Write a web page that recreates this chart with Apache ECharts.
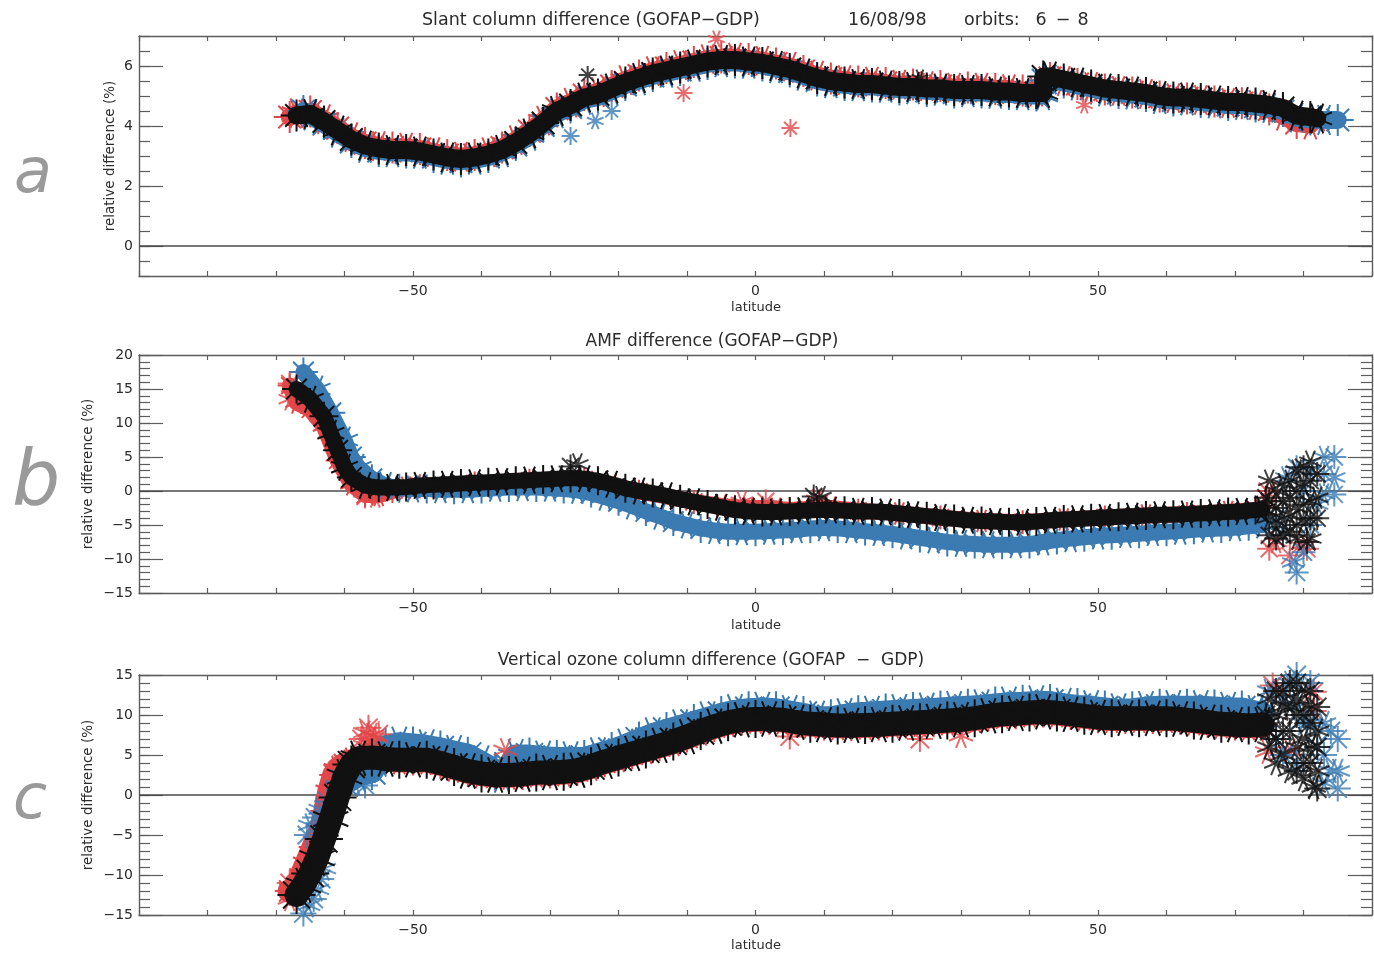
<!DOCTYPE html>
<html>
<head>
<meta charset="utf-8">
<script src="https://cdn.jsdelivr.net/npm/echarts@6/dist/echarts.min.js"></script>
<style>
  html, body { margin: 0; padding: 0; background: #ffffff; }
  #chart { width: 1374px; height: 963px; }
</style>
</head>
<body>
<div id="chart"></div>
<script>
// ---------- tick values ----------
const latLabels = [-50, 0, 50];
const slantTicks = [0, 2, 4, 6];
const amfTicks = [-15, -10, -5, 0, 5, 10, 15, 20];
const vcdTicks = [-15, -10, -5, 0, 5, 10, 15];
const zeroRef = [[-90, 0], [90, 0]];

// ---------- Slant column difference: [latitude, %] ----------
const slantRed = [[-68,4.3],[-67,4.43],[-65,4.48],[-63,4.23],[-61,3.93],[-59,3.63],[-57,3.43],[-55,3.33],[-53,3.28],[-51,3.28],[-49,3.23],[-47,3.13],[-45,3.03],[-43,2.98],[-41,3.03],[-39,3.13],[-37,3.28],[-35,3.53],[-33,3.83],[-31,4.18],[-29,4.58],[-27,4.78],[-25,5.03],[-23,5.13],[-21,5.33],[-19,5.53],[-17,5.68],[-15,5.83],[-13,5.93],[-11,6.03],[-9,6.13],[-7,6.23],[-5,6.28],[-3,6.28],[-1,6.23],[1,6.18],[3,6.08],[5,5.98],[7,5.83],[9,5.68],[11,5.58],[13,5.53],[15,5.48],[17,5.48],[19,5.43],[21,5.38],[23,5.38],[25,5.33],[27,5.33],[29,5.28],[31,5.28],[33,5.28],[35,5.23],[37,5.23],[39,5.18],[41,5.15],[43,5.6],[45,5.5],[47,5.4],[49,5.3],[51,5.22],[53,5.17],[55,5.12],[57,5.07],[59,4.98],[61,4.93],[63,4.92],[65,4.87],[67,4.82],[69,4.77],[71,4.76],[73,4.7],[75,4.55],[77,4.35],[79,4.1],[81,4.05]];
const slantBlue = [[-66,4.5],[-65,4.35],[-63,4.07],[-61,3.77],[-59,3.47],[-57,3.27],[-55,3.17],[-53,3.12],[-51,3.12],[-49,3.07],[-47,2.97],[-45,2.87],[-43,2.82],[-41,2.87],[-39,2.97],[-37,3.12],[-35,3.37],[-33,3.67],[-31,4.02],[-29,4.42],[-27,4.62],[-25,4.87],[-23,4.97],[-21,5.17],[-19,5.37],[-17,5.52],[-15,5.67],[-13,5.77],[-11,5.87],[-9,5.97],[-7,6.07],[-5,6.12],[-3,6.12],[-1,6.07],[1,6.02],[3,5.92],[5,5.82],[7,5.67],[9,5.52],[11,5.42],[13,5.37],[15,5.32],[17,5.32],[19,5.27],[21,5.22],[23,5.22],[25,5.17],[27,5.17],[29,5.12],[31,5.12],[33,5.12],[35,5.07],[37,5.07],[39,5.02],[41,5.02],[42,5.02],[42,5.52],[43,5.55],[45,5.45],[47,5.35],[49,5.25],[51,5.15],[53,5.1],[55,5.05],[57,5.0],[59,4.9],[61,4.85],[63,4.85],[65,4.8],[67,4.75],[69,4.7],[71,4.7],[73,4.65],[75,4.6],[77,4.5],[79,4.28],[81,4.22],[83,4.2],[85,4.2]];
const slantBlack = [[-67,4.35],[-65,4.4],[-63,4.15],[-61,3.85],[-59,3.55],[-57,3.35],[-55,3.25],[-53,3.2],[-51,3.2],[-49,3.15],[-47,3.05],[-45,2.95],[-43,2.9],[-41,2.95],[-39,3.05],[-37,3.2],[-35,3.45],[-33,3.75],[-31,4.1],[-29,4.5],[-27,4.7],[-25,4.95],[-23,5.05],[-21,5.25],[-19,5.45],[-17,5.6],[-15,5.75],[-13,5.85],[-11,5.95],[-9,6.05],[-7,6.15],[-5,6.2],[-3,6.2],[-1,6.15],[1,6.1],[3,6.0],[5,5.9],[7,5.75],[9,5.6],[11,5.5],[13,5.45],[15,5.4],[17,5.4],[19,5.35],[21,5.3],[23,5.3],[25,5.25],[27,5.25],[29,5.2],[31,5.2],[33,5.2],[35,5.15],[37,5.15],[39,5.1],[41,5.1],[42,5.1],[42,5.65],[43,5.65],[45,5.55],[47,5.45],[49,5.35],[51,5.25],[53,5.2],[55,5.15],[57,5.1],[59,5.0],[61,4.95],[63,4.95],[65,4.9],[67,4.85],[69,4.8],[71,4.8],[73,4.75],[75,4.7],[77,4.6],[79,4.35],[81,4.3],[82,4.25]];
const slantRedOut = [[-10.5,5.1],[-5.7,6.9],[5.1,3.93],[48,4.7]];
const slantBlueOut = [[-27,3.67],[-23.4,4.17],[-21,4.5]];
const slantBlackOut = [[-24.5,5.7],[24,5.6]];

// ---------- AMF difference ----------
const amfRed = [[-68,15.5],[-67,13.0],[-65,12.0],[-63,9.5],[-61,4.5],[-59,1.0],[-57,-0.6],[-55,-0.6],[-53,0.0],[-51,0.5],[-49,0.7],[-45,0.9],[-41,1.1],[-37,1.3],[-33,1.5],[-29,1.7],[-25,1.7],[-21,0.9],[-17,-0.1],[-13,-0.8],[-9,-1.6],[-5,-2.2],[-3,-2.4],[-1,-2.5],[1,-2.5],[3,-2.6],[5,-2.8],[7,-2.7],[9,-2.4],[11,-2.5],[15,-2.9],[21,-3.3],[27,-3.9],[33,-4.4],[39,-4.6],[45,-4.2],[51,-3.9],[57,-3.6],[63,-3.4],[69,-3.1],[73,-2.8]];
const amfBlue = [[-66,17.5],[-64,15.0],[-62,11.5],[-60,7.5],[-59,5.0],[-58,3.5],[-56,1.8],[-54,0.8],[-52,0.4],[-50,0.3],[-48,0.3],[-46,0.2],[-44,0.2],[-42,0.2],[-40,0.3],[-38,0.4],[-36,0.5],[-34,0.5],[-32,0.5],[-30,0.4],[-28,0.3],[-26,0.1],[-24,-0.3],[-22,-0.9],[-20,-1.5],[-18,-2.2],[-16,-3.0],[-14,-3.7],[-12,-4.5],[-10,-5.0],[-8,-5.5],[-6,-5.8],[-4,-6.0],[-2,-6.0],[0,-6.0],[2,-5.9],[4,-5.8],[6,-5.7],[8,-5.5],[10,-5.4],[12,-5.5],[14,-5.7],[16,-5.9],[18,-6.1],[20,-6.3],[22,-6.6],[24,-6.9],[26,-7.2],[28,-7.5],[30,-7.7],[32,-7.8],[34,-7.9],[36,-7.9],[38,-7.9],[40,-7.8],[42,-7.5],[44,-7.2],[46,-7.0],[48,-6.8],[50,-6.6],[52,-6.5],[54,-6.4],[56,-6.3],[58,-6.1],[60,-6.0],[62,-5.9],[64,-5.7],[66,-5.6],[68,-5.5],[70,-5.4],[72,-5.2],[74,-5.0]];
const amfBlack = [[-67,15.0],[-65,13.5],[-63,11.0],[-62,8.5],[-61,6.0],[-60,3.5],[-59,2.0],[-57,0.8],[-55,0.5],[-53,0.5],[-51,0.6],[-49,0.8],[-47,0.9],[-45,1.0],[-43,1.1],[-41,1.2],[-39,1.3],[-37,1.4],[-35,1.5],[-33,1.6],[-31,1.7],[-29,1.8],[-27,1.9],[-25,1.8],[-23,1.5],[-21,1.0],[-19,0.4],[-17,0.0],[-15,-0.3],[-13,-0.7],[-11,-1.2],[-9,-1.6],[-7,-2.0],[-5,-2.4],[-3,-2.8],[-1,-3.0],[1,-3.1],[3,-3.1],[5,-3.0],[7,-2.9],[9,-2.8],[11,-2.8],[13,-2.9],[15,-3.0],[17,-3.0],[19,-3.1],[21,-3.3],[23,-3.5],[25,-3.7],[27,-3.9],[29,-4.1],[31,-4.3],[33,-4.4],[35,-4.5],[37,-4.6],[39,-4.6],[41,-4.5],[43,-4.3],[45,-4.2],[47,-4.1],[49,-4.0],[51,-3.9],[53,-3.8],[55,-3.7],[57,-3.6],[59,-3.5],[61,-3.5],[63,-3.4],[65,-3.3],[67,-3.2],[69,-3.1],[71,-3.0],[73,-2.8],[74,-2.7]];
const amfRedOut = [[-68,15.8],[-68,13.5],[-57,-0.8],[-55.5,-0.8],[74.7,0],[74.5,-2],[75,-8.5],[76,-7.5],[78,-9.5],[79.5,-8],[80.5,-8.5],[-2,-1.6],[1.5,-1.5],[9,-1.3]];
const amfBlueOut = [[79,-12],[78.5,-10.5],[80,-9],[77,-6],[76,-4],[77.5,2],[79,3.5],[81,3],[81,-5],[82,-2],[80,0],[83,5],[83,2.5],[83,-0.5],[84.5,5],[84.5,2],[84.5,-0.5]];
const amfBlackOut = [[-27,3.6],[-26,3.9],[8.5,-0.8],[9.5,-0.9],[74.5,-1],[75,1.5],[75,-1.5],[75,-4],[75,-6.5],[76,0],[76,-2.5],[76,-5],[76,-7],[77,1],[77,-1.5],[77,-4],[77,-6.5],[78,1.5],[78,-1],[78,-3.5],[78,-6],[79,3],[79,0],[79,-2.5],[79,-5],[79,-7],[80,3.5],[80,1],[80,-2],[80,-4.5],[80.5,-7.5],[81,4.3],[81,1.5],[81,-1.5],[81,-4],[81,-7],[82,2.5],[82,-1],[82,-4]];

// ---------- Vertical ozone column difference ----------
const vcdRed = [[-68,-12],[-67.5,-11.8],[-66.5,-10.5],[-65.5,-8.5],[-64.5,-6.5],[-63.5,-4.5],[-62.8,-2],[-62.2,0.5],[-61.5,2.5],[-61,3.2],[-60,3.8],[-59,4.2],[-57,4.6],[-55,4.5],[-54,4.4],[-52,4.3],[-50,4.3],[-48,4.3],[-46,3.9],[-44,3.4],[-42,2.9],[-40,2.6],[-38,2.4],[-36,2.4],[-34,2.5],[-32,2.7],[-30,2.7],[-28,2.8],[-26,3.0],[-24,3.5],[-22,4.1],[-20,4.6],[-18,5.1],[-16,5.6],[-14,6.1],[-12,6.6],[-10,7.2],[-8,7.9],[-6,8.5],[-4,9.0],[-2,9.3],[0,9.4],[2,9.4],[4,9.3],[6,9.0],[8,8.8],[10,8.7],[12,8.6],[14,8.6],[16,8.65],[18,8.7],[20,8.8],[22,8.9],[24,9.0],[26,9.1],[28,9.2],[30,9.3],[32,9.5],[34,9.8],[36,10.0],[38,10.1],[40,10.2],[42,10.3],[44,10.2],[46,10.0],[48,9.8],[50,9.6],[52,9.5],[54,9.5],[56,9.5],[58,9.5],[60,9.5],[62,9.4],[64,9.2],[66,9.0],[68,8.8],[70,8.7],[72,8.6],[74,8.7]];
const vcdBlue = [[-60,1.5],[-58,2.5],[-56,3.0],[-55,4.5],[-54,6.0],[-52,6.35],[-50,6.2],[-48,6.0],[-46,5.7],[-44,5.3],[-42,4.9],[-40,4.0],[-38,3.0],[-37,2.5],[-36,3.5],[-35,4.8],[-33,4.8],[-31,4.6],[-29,4.5],[-27,4.5],[-25,4.5],[-23,5.0],[-21,5.5],[-19,6.1],[-17,6.8],[-15,7.5],[-13,8.0],[-11,8.5],[-9,9.0],[-7,9.5],[-5,10.0],[-3,10.4],[-1,10.6],[1,10.7],[3,10.6],[5,10.3],[7,10.0],[9,9.6],[11,9.6],[13,9.9],[15,10.1],[17,10.2],[19,10.3],[21,10.4],[23,10.5],[25,10.6],[27,10.7],[29,10.8],[31,10.9],[33,11.0],[35,11.2],[37,11.35],[39,11.4],[41,11.5],[43,11.5],[45,11.2],[47,11.0],[49,10.9],[51,10.7],[53,10.5],[55,10.6],[57,10.8],[59,10.9],[61,10.9],[63,10.9],[65,10.9],[67,10.8],[69,10.7],[71,10.7],[73,10.3],[74,10.1]];
const vcdBlack = [[-67,-12.5],[-66,-11.3],[-65,-9.8],[-64,-7.9],[-63,-5.5],[-62,-3.0],[-61,-0.3],[-60,2.3],[-59,3.8],[-58,4.6],[-56,4.7],[-54,4.5],[-52,4.4],[-50,4.4],[-48,4.4],[-46,4.0],[-44,3.5],[-42,3.0],[-40,2.7],[-38,2.5],[-36,2.5],[-34,2.6],[-32,2.8],[-30,2.8],[-28,2.9],[-26,3.1],[-24,3.6],[-22,4.2],[-20,4.7],[-18,5.2],[-16,5.7],[-14,6.2],[-12,6.7],[-10,7.3],[-8,8.0],[-6,8.6],[-4,9.1],[-2,9.4],[0,9.5],[2,9.5],[4,9.4],[6,9.1],[8,8.9],[10,8.8],[12,8.7],[14,8.7],[16,8.75],[18,8.8],[20,8.9],[22,9.0],[24,9.1],[26,9.2],[28,9.3],[30,9.4],[32,9.6],[34,9.9],[36,10.1],[38,10.2],[40,10.3],[42,10.4],[44,10.3],[46,10.1],[48,9.9],[50,9.7],[52,9.6],[54,9.6],[56,9.6],[58,9.6],[60,9.6],[62,9.5],[64,9.3],[66,9.1],[68,8.9],[70,8.8],[72,8.7],[74,8.8]];
const vcdRedOut = [[-68,-11],[-68,-13],[5,7.3],[-36.5,5.6],[-57.5,7.0],[-57,7.8],[-56.5,8.4],[-56,7.5],[-55.5,6.8],[-56.5,6.5],[-55,7.6],[-57,6.2],[24,7.0],[30,7.4],[75.5,13.7],[76.5,13.0],[81.5,12.9],[74.7,5.4],[81.5,10.5],[78,5.5]];
const vcdBlueOut = [[-66,-14.8],[-65.3,-13.8],[-64.5,-13],[-64,-11.8],[-63.4,-10.5],[-63,-9.2],[-65.5,-5],[-65,-3.8],[-64.3,-2.8],[-63.5,-1.8],[-62.5,-0.8],[-61,1.2],[-59.8,2.0],[-58.5,1.5],[-57,1.2],[75,13],[76,7],[77,12],[77,5],[78,14],[79,15],[79,11],[79,4],[80,9],[81,14],[81,9],[82,6],[83,9],[83,5],[83,1.5],[84,8],[84,3],[85,7],[85,3],[85,0.8]];
const vcdBlackOut = [[74.5,10],[75,12],[75,8],[75,6],[76,13],[76,10],[76,7],[76,4],[77,13],[77,11],[77,8],[77,5],[78,14],[78,11],[78,8],[78,3],[79,14],[79,12],[79,10],[79,6],[79,3],[80,13],[80,10],[80,7],[80,4],[80,2],[81,13],[81,11],[81,9],[81,6],[81,4],[81.5,1],[82,11],[82,8],[82,6],[82,3],[82,0.8]];

// ---------- styling ----------
const RED = '#e2474a';
const BLUE = '#3b7bb2';
const BLACK = '#111111';
const AXIS = '#5c5c5c';
const TEXT = '#2b2b2b';
const FONT = '"DejaVu Sans", sans-serif';
const ASTERISK = 'path://M5,0L5,10M0,5L10,5M1.46,1.46L8.54,8.54M1.46,8.54L8.54,1.46';
// neighbouring asterisks are turned a little so the arms fan out
const spin = (v, params) => (params.dataIndex % 2) * 22.5;

const panels = [
  { top: 36,  height: 240, min: -1,  max: 7,  step: 0.5, majors: slantTicks,
    red: slantRed, blue: slantBlue, black: slantBlack,
    redOut: slantRedOut, blueOut: slantBlueOut, blackOut: slantBlackOut,
    lw: 18, sym: 32, redSym: 32, outSym: 18 },
  { top: 355, height: 238, min: -15, max: 20, step: 1, majors: amfTicks,
    red: amfRed, blue: amfBlue, black: amfBlack,
    redOut: amfRedOut, blueOut: amfBlueOut, blackOut: amfBlackOut,
    lw: 16, sym: 29, redSym: 24, outSym: 24 },
  { top: 675, height: 240, min: -15, max: 15, step: 1, majors: vcdTicks,
    red: vcdRed, blue: vcdBlue, black: vcdBlack,
    redOut: vcdRedOut, blueOut: vcdBlueOut, blackOut: vcdBlackOut,
    lw: 24, sym: 38, redSym: 30, outSym: 26 }
];

const fmt = v => (v < 0 ? '\u2212' + (-v) : String(v));
const axisLine = { show: true, onZero: false, lineStyle: { color: AXIS, width: 1.4 } };
const tickLine = { color: AXIS, width: 1.2 };

const grid = [], xAxis = [], yAxis = [], series = [];

panels.forEach((p, i) => {
  grid.push({ left: 139, top: p.top, width: 1233, height: p.height, outerBoundsMode: 'none' });

  ['bottom', 'top'].forEach(pos => {
    xAxis.push({
      type: 'value', gridIndex: i, position: pos, min: -90, max: 90, interval: 10,
      axisLine, splitLine: { show: false },
      axisTick: { inside: true, length: 5, lineStyle: tickLine },
      axisLabel: pos === 'bottom'
        ? { show: true, customValues: latLabels, formatter: fmt, color: TEXT, fontSize: 14, fontFamily: FONT, margin: 8 }
        : { show: false }
    });
  });

  ['left', 'right'].forEach(pos => {
    // long ticks at the labelled values
    yAxis.push({
      type: 'value', gridIndex: i, position: pos, min: p.min, max: p.max,
      axisLine, splitLine: { show: false },
      axisTick: { inside: true, length: 24, customValues: p.majors, lineStyle: tickLine },
      axisLabel: pos === 'left'
        ? { show: true, customValues: p.majors, formatter: fmt, color: TEXT, fontSize: 14, fontFamily: FONT, margin: 6 }
        : { show: false }
    });
    // short ticks in between
    yAxis.push({
      type: 'value', gridIndex: i, position: pos, min: p.min, max: p.max, interval: p.step,
      axisLine: { show: false, onZero: false }, splitLine: { show: false },
      axisTick: { inside: true, length: 11, lineStyle: tickLine },
      axisLabel: { show: false }
    });
  });

  const xi = 2 * i, yi = 4 * i;
  // each layer gets its own z so a band's asterisks stay below the next band
  const band = (data, color, size, z) => ({
    type: 'line', xAxisIndex: xi, yAxisIndex: yi, data, silent: true, z,
    symbol: ASTERISK, symbolSize: size, symbolRotate: spin, showSymbol: true,
    lineStyle: { color, width: p.lw, cap: 'round', join: 'round' },
    itemStyle: { color, borderColor: color, borderWidth: 2 },
    emphasis: { disabled: true }
  });
  const cloud = (data, color, z) => ({
    type: 'scatter', xAxisIndex: xi, yAxisIndex: yi, data, silent: true, z,
    symbol: ASTERISK, symbolSize: p.outSym, symbolRotate: spin,
    itemStyle: { color, borderColor: color, borderWidth: 2 },
    emphasis: { disabled: true }
  });

  series.push({
    type: 'line', xAxisIndex: xi, yAxisIndex: yi, data: zeroRef, silent: true, z: 1,
    symbol: 'none', lineStyle: { color: '#4a4a4a', width: 1.3 }
  });
  series.push(band(p.red, RED, p.redSym, 2));
  series.push(band(p.blue, BLUE, p.sym, 3));
  series.push(cloud(p.redOut, RED, 4));
  series.push(cloud(p.blueOut, BLUE, 5));
  series.push(band(p.black, BLACK, p.sym, 6));
  series.push(cloud(p.blackOut, BLACK, 7));
});

// ---------- text ----------
const txt = (x, y, text, size, extra, align) => Object.assign({
  type: 'text', x, y, silent: true,
  style: { text, font: size + 'px ' + FONT, fill: TEXT, align: align || 'center', verticalAlign: 'middle' }
}, extra || {});

const graphic = [
  txt(422, 20, 'Slant column difference (GOFAP\u2212GDP)', 17.5, {}, 'left'),
  txt(848, 20, '16/08/98', 17.5, {}, 'left'),
  txt(964, 20, 'orbits:', 17.5, {}, 'left'),
  txt(1041, 20, '6', 17.5),
  txt(1063, 20, '\u2212', 17.5),
  txt(1083, 20, '8', 17.5),
  txt(712, 342, 'AMF difference (GOFAP\u2212GDP)', 17),
  txt(711, 661, 'Vertical ozone column difference (GOFAP  \u2212  GDP)', 17),
  txt(756, 308, 'latitude', 13),
  txt(756, 626, 'latitude', 13),
  txt(756, 946, 'latitude', 13),
  txt(110, 156, 'relative difference (%)', 13.5, { rotation: Math.PI / 2 }),
  txt(88, 474, 'relative difference (%)', 13.5, { rotation: Math.PI / 2 }),
  txt(88, 795, 'relative difference (%)', 13.5, { rotation: Math.PI / 2 })
];

['a', 'b', 'c'].forEach((letter, i) => {
  graphic.push({
    type: 'text', x: [33, 36, 30][i], y: [176, 484, 802][i], silent: true,
    style: { text: letter, font: 'italic ' + [62, 76, 62][i] + 'px "DejaVu Sans", sans-serif',
             fill: '#9a9a9a', align: 'center', verticalAlign: 'middle' }
  });
});

const chart = echarts.init(document.getElementById('chart'), null, { renderer: 'canvas' });
chart.setOption({
  animation: false,
  backgroundColor: '#ffffff',
  textStyle: { fontFamily: FONT },
  grid, xAxis, yAxis, series, graphic
});
</script>
</body>
</html>
